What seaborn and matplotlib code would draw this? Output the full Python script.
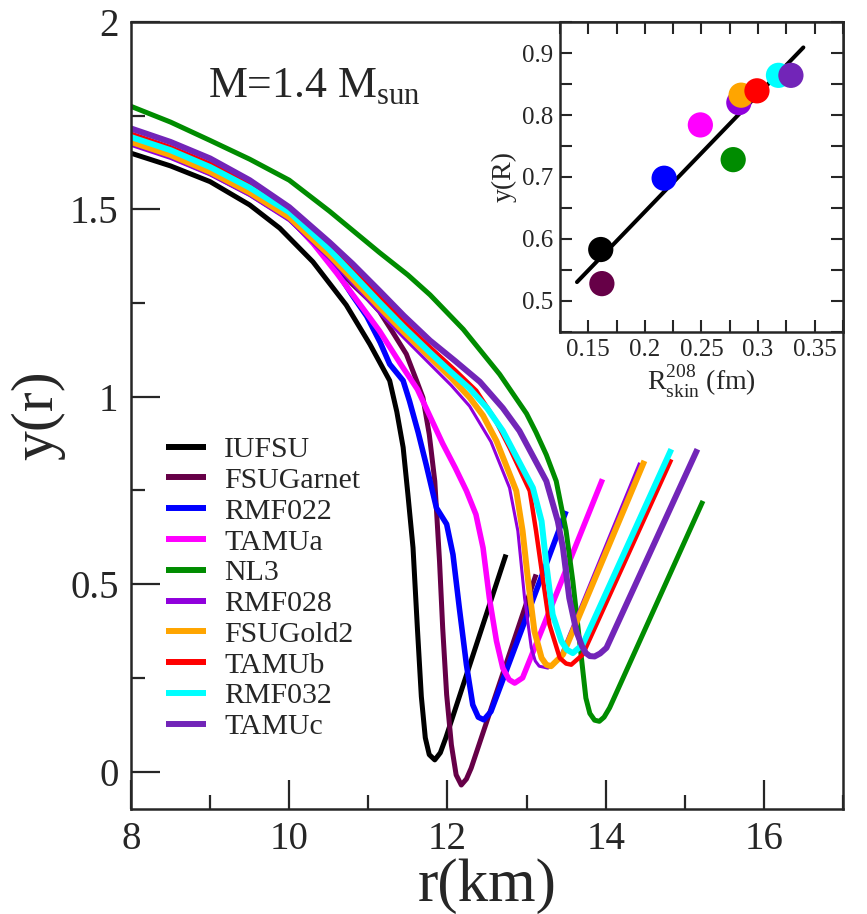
import numpy as np
import pandas as pd
import matplotlib
matplotlib.use('Agg')
import matplotlib.pyplot as plt
import seaborn as sns
from matplotlib.lines import Line2D
from matplotlib.ticker import MultipleLocator, FormatStrFormatter

# y(r) profiles, one pair of lists per model
r_iufsu = [8.0, 8.5, 9.0, 9.5, 9.88, 10.3, 10.72, 11.02, 11.27, 11.36, 11.44, 11.50, 11.565, 11.62, 11.67, 11.72, 11.77, 11.84, 11.91, 11.98, 12.74]
y_iufsu = [1.650, 1.616, 1.574, 1.512, 1.450, 1.360, 1.245, 1.140, 1.043, 0.960, 0.865, 0.740, 0.597, 0.383, 0.200, 0.090, 0.045, 0.031, 0.050, 0.090, 0.579]
r_garnet = [8.0, 8.5, 9.0, 9.5, 10.0, 10.5, 10.8, 11.0, 11.14, 11.3, 11.48, 11.61, 11.69, 11.77, 11.84, 11.90, 11.94, 11.99, 12.05, 12.11, 12.175, 12.24, 12.30, 13.12]
y_garnet = [1.676, 1.641, 1.596, 1.541, 1.475, 1.373, 1.300, 1.260, 1.228, 1.175, 1.114, 1.043, 0.998, 0.900, 0.775, 0.561, 0.383, 0.205, 0.071, -0.009, -0.036, -0.020, 0.009, 0.526]
r_rmf022 = [8.0, 8.5, 9.0, 9.5, 10.0, 10.4, 10.6, 10.8, 10.98, 11.15, 11.27, 11.44, 11.52, 11.63, 11.73, 11.86, 11.99, 12.07, 12.15, 12.24, 12.32, 12.39, 12.46, 12.55, 13.50]
y_rmf022 = [1.678, 1.643, 1.598, 1.543, 1.477, 1.390, 1.335, 1.270, 1.215, 1.145, 1.087, 1.043, 0.989, 0.905, 0.820, 0.704, 0.660, 0.579, 0.437, 0.285, 0.178, 0.145, 0.138, 0.160, 0.695]
r_tamua = [8.0, 8.5, 9.0, 9.5, 10.0, 10.3, 10.6, 10.9, 11.14, 11.40, 11.62, 11.94, 12.10, 12.24, 12.36, 12.45, 12.53, 12.62, 12.70, 12.78, 12.85, 12.95, 13.96]
y_tamua = [1.679, 1.644, 1.599, 1.544, 1.478, 1.410, 1.330, 1.245, 1.176, 1.090, 1.020, 0.875, 0.810, 0.749, 0.686, 0.597, 0.463, 0.348, 0.276, 0.245, 0.236, 0.250, 0.780]
r_nl3 = [8.0, 8.5, 9.0, 9.5, 10.0, 10.51, 11.14, 11.5, 11.78, 12.2, 12.66, 13.0, 13.12, 13.25, 13.375, 13.50, 13.585, 13.67, 13.75, 13.80, 13.86, 13.92, 13.98, 14.05, 15.23]
y_nl3 = [1.775, 1.733, 1.684, 1.634, 1.578, 1.495, 1.385, 1.325, 1.272, 1.180, 1.060, 0.955, 0.905, 0.845, 0.775, 0.642, 0.508, 0.348, 0.196, 0.155, 0.137, 0.134, 0.145, 0.170, 0.722]
r_rmf028 = [8.0, 8.5, 9.0, 9.5, 10.0, 10.51, 10.8, 11.14, 11.45, 11.78, 12.05, 12.28, 12.55, 12.785, 12.89, 12.975, 13.06, 13.11, 13.16, 13.27, 13.42, 14.43]
y_rmf028 = [1.671, 1.636, 1.592, 1.537, 1.470, 1.368, 1.302, 1.225, 1.157, 1.087, 1.030, 0.975, 0.880, 0.757, 0.642, 0.463, 0.330, 0.295, 0.281, 0.276, 0.303, 0.824]
r_gold2 = [8.0, 8.5, 9.0, 9.5, 10.0, 10.51, 10.8, 11.14, 11.45, 11.78, 12.05, 12.28, 12.45, 12.62, 12.87, 12.95, 13.02, 13.10, 13.19, 13.25, 13.31, 13.46, 14.49]
y_gold2 = [1.680, 1.645, 1.600, 1.545, 1.479, 1.378, 1.314, 1.239, 1.172, 1.105, 1.050, 0.998, 0.950, 0.882, 0.749, 0.642, 0.508, 0.374, 0.303, 0.285, 0.281, 0.312, 0.829]
r_tamub = [8.0, 8.5, 9.0, 9.5, 10.0, 10.51, 10.8, 11.14, 11.45, 11.78, 12.1, 12.365, 12.6, 12.785, 13.04, 13.12, 13.21, 13.29, 13.42, 13.50, 13.565, 13.71, 14.83]
y_tamub = [1.702, 1.666, 1.622, 1.566, 1.500, 1.402, 1.340, 1.266, 1.198, 1.132, 1.070, 1.016, 0.940, 0.864, 0.749, 0.642, 0.508, 0.392, 0.303, 0.288, 0.285, 0.312, 0.833]
r_rmf032 = [8.0, 8.5, 9.0, 9.5, 10.0, 10.51, 10.8, 11.14, 11.45, 11.78, 12.05, 12.28, 12.5, 12.70, 13.08, 13.19, 13.25, 13.33, 13.44, 13.51, 13.585, 13.71, 14.83]
y_rmf032 = [1.693, 1.658, 1.613, 1.558, 1.493, 1.392, 1.328, 1.252, 1.185, 1.118, 1.065, 1.022, 0.970, 0.909, 0.757, 0.668, 0.553, 0.419, 0.348, 0.325, 0.316, 0.339, 0.860]
r_tamuc = [8.0, 8.5, 9.0, 9.5, 10.0, 10.51, 10.8, 11.14, 11.45, 11.78, 12.1, 12.41, 12.7, 12.91, 13.25, 13.395, 13.46, 13.54, 13.63, 13.70, 13.75, 13.80, 13.86, 13.93, 14.01, 15.16]
y_tamuc = [1.716, 1.680, 1.636, 1.578, 1.506, 1.412, 1.355, 1.283, 1.216, 1.150, 1.095, 1.040, 0.970, 0.909, 0.775, 0.668, 0.597, 0.463, 0.374, 0.335, 0.316, 0.308, 0.307, 0.315, 0.330, 0.860]

models = ['IUFSU', 'FSUGarnet', 'RMF022', 'TAMUa', 'NL3', 'RMF028', 'FSUGold2', 'TAMUb', 'RMF032', 'TAMUc']
curves = {'IUFSU': (r_iufsu, y_iufsu), 'FSUGarnet': (r_garnet, y_garnet), 'RMF022': (r_rmf022, y_rmf022),
          'TAMUa': (r_tamua, y_tamua), 'NL3': (r_nl3, y_nl3), 'RMF028': (r_rmf028, y_rmf028),
          'FSUGold2': (r_gold2, y_gold2), 'TAMUb': (r_tamub, y_tamub), 'RMF032': (r_rmf032, y_rmf032),
          'TAMUc': (r_tamuc, y_tamuc)}

# inset: neutron skin of 208Pb vs y(R)
rskin = [0.161, 0.162, 0.217, 0.249, 0.278, 0.283, 0.285, 0.299, 0.318, 0.329]
y_surf = [0.583, 0.528, 0.698, 0.784, 0.728, 0.820, 0.832, 0.839, 0.864, 0.864]
fit_span = [0.14, 0.34]

colors = {'IUFSU': '#000000', 'FSUGarnet': '#660047', 'RMF022': '#0000ff', 'TAMUa': '#ff00ff', 'NL3': '#008c00',
          'RMF028': '#9000dc', 'FSUGold2': '#ffa500', 'TAMUb': '#ff0000', 'RMF032': '#00ffff', 'TAMUc': '#7225b8'}
widths = {'IUFSU': 3.6, 'FSUGarnet': 3.6, 'RMF022': 4.0, 'TAMUa': 4.0, 'NL3': 3.6, 'RMF028': 2.2,
          'FSUGold2': 4.3, 'TAMUb': 3.2, 'RMF032': 4.3, 'TAMUc': 4.3}

sns.set_style('ticks')
plt.rcParams['font.family'] = ['Liberation Serif', 'DejaVu Serif']
plt.rcParams['mathtext.fontset'] = 'custom'
plt.rcParams['mathtext.rm'] = 'Liberation Serif'

df = pd.concat([pd.DataFrame({'r': r, 'y': y, 'model': m}) for m, (r, y) in curves.items()], ignore_index = True)

fig = plt.figure(figsize = (8.67, 9.14), dpi = 100)
ax = fig.add_axes([0.1511, 0.1149, 0.8212, 0.861])
sns.lineplot(data = df, x = 'r', y = 'y', hue = 'model', size = 'model', hue_order = models, size_order = models,
             palette = colors, sizes = widths, sort = False, estimator = None, legend = False, ax = ax,
             solid_joinstyle = 'round', solid_capstyle = 'butt')
ax.set_xlim(8, 17); ax.set_ylim(-0.1, 2)
ax.xaxis.set_major_locator(MultipleLocator(2)); ax.xaxis.set_minor_locator(MultipleLocator(1))
ax.yaxis.set_major_locator(MultipleLocator(0.5)); ax.yaxis.set_minor_locator(MultipleLocator(0.25))
ax.yaxis.set_major_formatter(FormatStrFormatter('%g'))
ax.tick_params(which = 'major', direction = 'in', length = 21, width = 1.6, labelsize = 28, pad = 9, top = False, right = False)
ax.tick_params(which = 'minor', direction = 'in', length = 10, width = 1.6, top = False, right = False)
for s in ax.spines.values():
    s.set_linewidth(1.8); s.set_visible(True)
ax.set_xlabel('r(km)', fontsize = 44, labelpad = 0)
ax.set_ylabel('y(r)', fontsize = 43, labelpad = 3)
ax.text(0.108, 0.917, r'M=1.4 M$_{\rm sun}$', transform = ax.transAxes, fontsize = 31.5, ha = 'left', va = 'center')

handles = [Line2D([], [], color = colors[m], lw = 4.3, solid_capstyle = 'butt') for m in models]
ax.legend(handles, models, loc = 'upper left', bbox_to_anchor = (0.1915, 0.5227), bbox_transform = fig.transFigure,
          frameon = False, fontsize = 21.5, handlelength = 1.35, handletextpad = 0.6, labelspacing = 0.13,
          borderpad = 0, borderaxespad = 0)

ins = fig.add_axes([0.6459, 0.6368, 0.3264, 0.3391])
ins.set_facecolor('white')
k, b = np.polyfit(rskin, y_surf, 1)
sns.lineplot(x = fit_span, y = [k * v + b for v in fit_span], color = 'black', lw = 2.9, ax = ins, zorder = 1)
sns.scatterplot(x = rskin, y = y_surf, hue = models, hue_order = models, palette = colors, s = 330, linewidth = 0,
                legend = False, ax = ins, zorder = 2)
ins.set_xlim(0.125, 0.375); ins.set_ylim(0.45, 0.95)
ins.xaxis.set_major_locator(MultipleLocator(0.05)); ins.xaxis.set_minor_locator(MultipleLocator(0.025))
ins.yaxis.set_major_locator(MultipleLocator(0.1)); ins.yaxis.set_minor_locator(MultipleLocator(0.05))
ins.xaxis.set_major_formatter(FormatStrFormatter('%g')); ins.yaxis.set_major_formatter(FormatStrFormatter('%g'))
ins.tick_params(which = 'both', direction = 'in', length = 8.5, width = 1.5, top = True, right = True)
ins.tick_params(which = 'major', labelsize = 18, pad = 5)
for s in ins.spines.values():
    s.set_linewidth(1.8)
ins.set_xlabel(r'R$^{208}_{\rm skin}$ (fm)', fontsize = 20, labelpad = 2)
ins.set_ylabel('y(R)', fontsize = 20, labelpad = 4)

fig.savefig('out.png', dpi = 100)
